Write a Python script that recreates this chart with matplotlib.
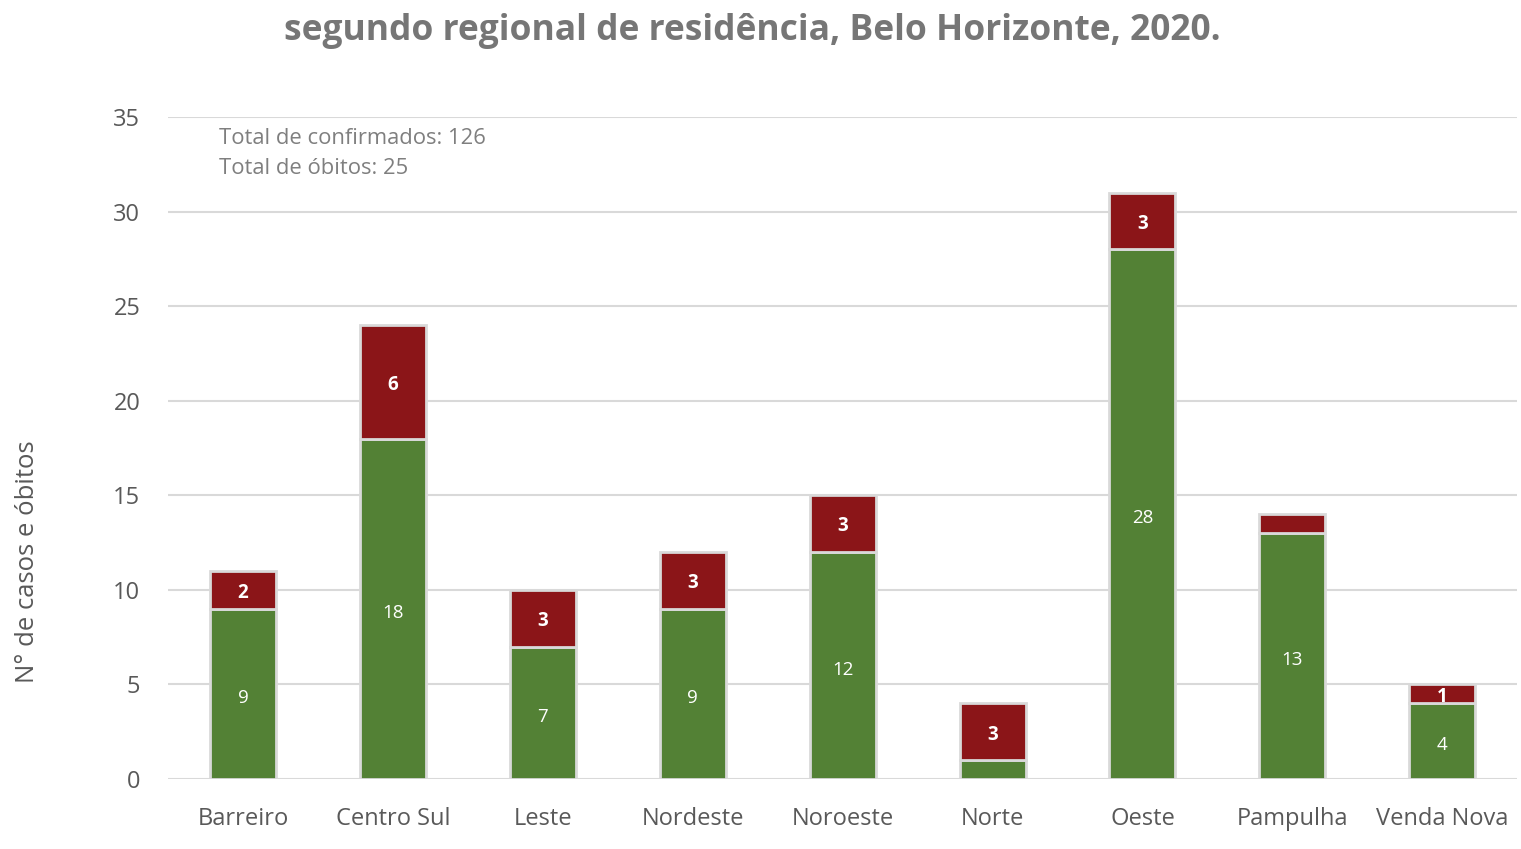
import matplotlib
matplotlib.use("Agg")
import matplotlib.pyplot as plt
import numpy as np

categories = ["Barreiro", "Centro Sul", "Leste", "Nordeste", "Noroeste", "Norte", "Oeste", "Pampulha", "Venda Nova"]
confirmados = [9, 18, 7, 9, 12, 1, 28, 13, 4]
obitos = [2, 6, 3, 3, 3, 3, 3, 1, 1]
confirmados_labels = ["9", "18", "7", "9", "12", "", "28", "13", "4"]
obitos_labels = ["2", "6", "3", "3", "3", "3", "3", "", "1"]
yticks = [0, 5, 10, 15, 20, 25, 30, 35]

plt.rcParams['font.family'] = ['Open Sans', 'DejaVu Sans']

fig = plt.figure(figsize=(15.21, 8.49), dpi=100)
ax = fig.add_axes([0.1105, 0.0824, 0.887, 0.7798])

x = np.arange(len(categories))
green = "#538135"
red = "#8B1518"
edge = "#D9D9D9"
w = 0.44
ax.bar(x, confirmados, width=w, color=green, edgecolor=edge, linewidth=2, zorder=3)
ax.bar(x, obitos, width=w, bottom=confirmados, color=red, edgecolor=edge, linewidth=2, zorder=3)

for xi, c, lab in zip(x, confirmados, confirmados_labels):
    if lab:
        ax.annotate(lab, (xi, c / 2), xytext=(0, -3), textcoords="offset points",
                    ha="center", va="center", color="white", fontsize=13.5, zorder=4)
for xi, c, o, lab in zip(x, confirmados, obitos, obitos_labels):
    if lab:
        ax.annotate(lab, (xi, c + o / 2), xytext=(0, -2), textcoords="offset points",
                    ha="center", va="center", color="white", fontsize=13.5,
                    fontweight="bold", zorder=4)

ax.set_xlim(-0.5, len(categories) - 0.5)
ax.set_ylim(0, 35)
ax.set_yticks(yticks)
ax.set_xticks(x)
ax.set_xticklabels(categories)
ax.tick_params(axis="both", length=0, labelsize=17, colors="#595959")
ax.tick_params(axis="y", pad=20)
ax.tick_params(axis="x", pad=20)
ax.grid(axis="y", color="#D9D9D9", linewidth=1.5, zorder=0)
for s in ["top", "right", "left", "bottom"]:
    ax.spines[s].set_visible(False)

fig.text(28 / 1521, 1 - 562 / 849, "N° de casos e óbitos", rotation=90, ha="center", va="center",
         fontsize=18.5, color="#595959")

fig.text(219 / 1521, 1 - 139 / 849, "Total de confirmados: 126", ha="left", va="center",
         fontsize=15.8, color="#7F7F7F")
fig.text(219 / 1521, 1 - 169 / 849, "Total de óbitos: 25", ha="left", va="center",
         fontsize=15.8, color="#7F7F7F")

fig.text(752 / 1521, 1 - 31 / 849, "segundo regional de residência, Belo Horizonte, 2020.", ha="center",
         va="center", fontsize=25.5, fontweight="bold", color="#767676")

fig.savefig("out.png", dpi=100)
